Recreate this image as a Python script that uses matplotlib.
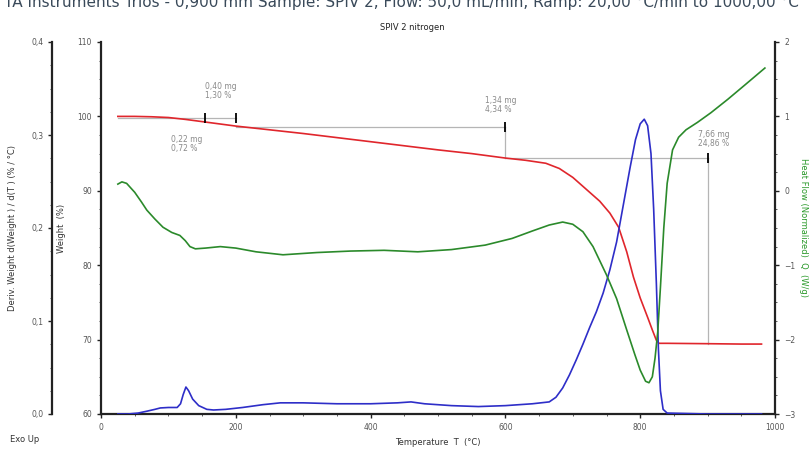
import matplotlib
matplotlib.use("Agg")
import matplotlib.pyplot as plt
from matplotlib.ticker import MultipleLocator, FixedLocator, FixedFormatter

# weight curve (%)
t_w = [25, 50, 75, 100, 125, 150, 175, 200, 250, 300, 350, 400, 450, 500, 550, 600,
       630, 660, 680, 700, 720, 740, 755, 768, 780, 790, 800, 811, 818, 824, 828,
       840, 900, 950, 980]
weight = [100.0, 100.0, 99.95, 99.85, 99.6, 99.3, 99.0, 98.7, 98.2, 97.7, 97.15, 96.6,
          96.05, 95.5, 95.0, 94.4, 94.1, 93.7, 93.0, 91.8, 90.2, 88.6, 87.0, 85.1,
          81.8, 78.4, 75.6, 73.0, 71.3, 69.9, 69.5, 69.5, 69.45, 69.4, 69.4]

# derivative weight (%/°C)
t_d = [25, 40, 55, 68, 80, 88, 100, 113, 118, 122, 126, 130, 136, 145, 157, 167,
       185, 210, 240, 266, 300, 350, 400, 440, 460, 480, 520, 560, 600, 640, 665,
       675, 685, 695, 705, 715, 725, 735, 745, 755, 765, 775, 785, 793, 800, 806,
       811, 816, 820, 824, 827, 830, 834, 840, 900, 980]
deriv = [0.0, 0.0, 0.001, 0.003, 0.005, 0.0065, 0.007, 0.007, 0.011, 0.021, 0.029,
         0.025, 0.016, 0.009, 0.005, 0.0043, 0.005, 0.007, 0.010, 0.012, 0.012,
         0.011, 0.011, 0.012, 0.013, 0.011, 0.009, 0.008, 0.009, 0.011, 0.013,
         0.018, 0.028, 0.042, 0.058, 0.075, 0.093, 0.11, 0.13, 0.155, 0.185,
         0.225, 0.265, 0.295, 0.312, 0.317, 0.31, 0.28, 0.22, 0.14, 0.07, 0.025,
         0.005, 0.001, 0.0, 0.0]

# heat flow (W/g)
t_h = [25, 31, 38, 50, 60, 68, 80, 92, 105, 117, 125, 132, 140, 155, 177, 200,
       230, 270, 320, 370, 420, 470, 520, 570, 610, 640, 665, 685, 700, 715, 730,
       750, 765, 780, 792, 800, 808, 813, 818, 822, 826, 830, 835, 840, 848, 857,
       868, 885, 905, 930, 955, 985]
heat = [0.09, 0.12, 0.10, -0.02, -0.15, -0.26, -0.38, -0.49, -0.56, -0.6, -0.67,
        -0.75, -0.78, -0.77, -0.75, -0.77, -0.82, -0.86, -0.83, -0.81, -0.80,
        -0.82, -0.79, -0.73, -0.64, -0.54, -0.46, -0.42, -0.45, -0.55, -0.75,
        -1.13, -1.45, -1.87, -2.2, -2.41, -2.56, -2.58, -2.5, -2.25, -1.9, -1.3,
        -0.5, 0.1, 0.55, 0.72, 0.82, 0.92, 1.05, 1.23, 1.42, 1.65]

# step annotations: (start T, end T, level %, bottom %), text, text pos
steps = [(25, 155, 99.8, None), (155, 200, 99.8, None),
         (200, 600, 98.6, 94.4), (600, 900, 94.4, 69.45)]
step_text = ["0,22 mg\n0,72 %", "0,40 mg\n1,30 %", "1,34 mg\n4,34 %", "7,66 mg\n24,86 %"]
text_pos = [(104, 96.3), (155, 103.4), (570, 101.5), (886, 97.0)]

gray = "#8a8a8a"
W, H = 811, 450
fig = plt.figure(figsize=(W / 100, H / 100), dpi=100)
ax = fig.add_axes([101 / W, 36 / H, 674 / W, 372 / H])
ax_d = ax.twinx()
ax_h = ax.twinx()

# weight axis
ax.plot(t_w, weight, color="#e0262c", lw=1.2, zorder=3)
ax.set_xlim(0, 1000)
ax.set_ylim(60, 110)
ax.xaxis.set_major_locator(MultipleLocator(200))
ax.xaxis.set_minor_locator(MultipleLocator(50))
ax.yaxis.set_major_locator(MultipleLocator(10))
ax.yaxis.set_minor_locator(MultipleLocator(2.5))
ax.set_xlabel("Temperature  T  (°C)", fontsize=6, color="#333333", labelpad=4)
ax.set_ylabel("Weight  (%)", fontsize=6, color="#333333", va="center")
ax.yaxis.set_label_coords((62 - 101) / 674, 0.5)

for (a, b, lev, bot), txt, (tx, ty) in zip(steps, step_text, text_pos):
    ax.plot([a, b], [lev, lev], color="#b5b5b5", lw=0.9, zorder=2)
    ax.plot([b], [lev], marker="|", color="black", ms=7, mew=1.3, zorder=4)
    if bot is not None:
        ax.plot([b, b], [lev, bot], color="#b5b5b5", lw=0.9, zorder=2)
    ax.text(tx, ty, txt, fontsize=5.5, color=gray, va="center", ha="left",
            linespacing=1.0)

# derivative axis (outer left)
ax_d.plot(t_d, deriv, color="#2e2ec8", lw=1.2)
ax_d.set_ylim(0, 0.4)
ax_d.yaxis.set_label_position("left")
ax_d.yaxis.tick_left()
ax_d.spines["left"].set_position(("outward", 35))
ax_d.spines["left"].set_visible(True)
ax_d.yaxis.set_major_locator(FixedLocator([0, 0.1, 0.2, 0.3, 0.4]))
ax_d.yaxis.set_major_formatter(FixedFormatter(["0,0", "0,1", "0,2", "0,3", "0,4"]))
ax_d.yaxis.set_minor_locator(MultipleLocator(0.025))
ax_d.set_ylabel("Deriv. Weight d(Weight ) / d(T ) (% / °C)", fontsize=6,
                color="#333333", va="center")
ax_d.yaxis.set_label_coords((13 - 101) / 674, 0.5)

# heat flow axis (right)
ax_h.plot(t_h, heat, color="#2b8a2b", lw=1.2)
ax_h.set_ylim(-3, 2)
ax_h.yaxis.set_major_locator(MultipleLocator(1))
ax_h.yaxis.set_minor_locator(MultipleLocator(0.25))
ax_h.set_ylabel("Heat Flow (Normalized)  Q  (W/g)", fontsize=6, color="#2b9a2b",
                rotation=-90, va="center")
ax_h.yaxis.set_label_coords((803 - 101) / 674, 0.5)

for a in (ax, ax_d, ax_h):
    a.spines["top"].set_visible(False)
    for s in a.spines.values():
        s.set_linewidth(1.6)
        s.set_color("#222222")
    a.tick_params(which="major", length=3, width=1, labelsize=5.5,
                  labelcolor="#555555", color="#222222")
    a.tick_params(which="minor", length=1.5, width=0.6, color="#444444")
ax.spines["right"].set_visible(False)
ax_d.spines["right"].set_visible(False)
ax_h.spines["left"].set_visible(False)
ax_h.spines["bottom"].set_visible(False)
ax_d.spines["bottom"].set_visible(False)

fig.text(412 / W, 1 - 27 / H, "SPIV 2 nitrogen", fontsize=6, ha="center",
         va="center", color="#222222")
fig.text(10 / W, 1 - 440 / H, "Exo Up", fontsize=6, ha="left", va="center",
         color="#333333")
fig.text(4 / W, 1 - 2 / H, "TA Instruments Trios - 0,900 mm Sample: SPIV 2, Flow: 50,0 mL/min, Ramp: 20,00 °C/min to 1000,00 °C",
         fontsize=11, ha="left", va="center", color="#3a4a5a")

fig.savefig("out.png", dpi=100)
